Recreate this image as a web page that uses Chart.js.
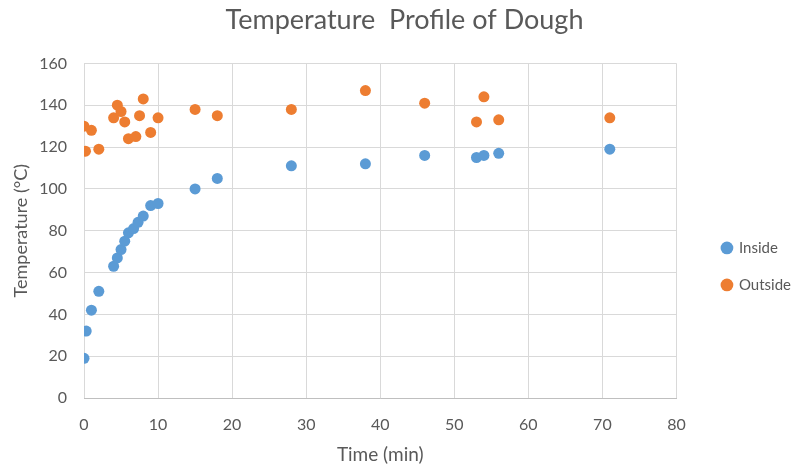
<!DOCTYPE html>
<html>
<head>
<meta charset="utf-8">
<script src="https://cdn.jsdelivr.net/npm/chart.js@4"></script>
<style>
  html, body { margin: 0; padding: 0; background: #fff; }
</style>
</head>
<body>
<canvas id="chart" width="796" height="470"></canvas>
<script>
const insideTime = [0, 0.3, 1, 2, 4, 4.5, 5, 5.5, 6, 6.7, 7.3, 8, 9, 10, 15, 18, 28, 38, 46, 53, 54, 56, 71];
const insideTemp = [19, 32, 42, 51, 63, 67, 71, 75, 79, 81, 84, 87, 92, 93, 100, 105, 111, 112, 116, 115, 116, 117, 119];
const outsideTime = [0, 0.2, 1, 2, 4, 4.5, 5, 5.5, 6, 7, 7.5, 8, 9, 10, 15, 18, 28, 38, 46, 53, 54, 56, 71];
const outsideTemp = [130, 118, 128, 119, 134, 140, 137, 132, 124, 125, 135, 143, 127, 134, 138, 135, 138, 147, 141, 132, 144, 133, 134];

const toPoints = (xs, ys) => xs.map((x, i) => ({ x: x, y: ys[i] }));

const textColor = '#595959';
const gridColor = '#d9d9d9';
const fontFamily = 'Lato, "Open Sans", sans-serif';

new Chart(document.getElementById('chart'), {
  type: 'scatter',
  data: {
    datasets: [
      {
        label: 'Inside',
        data: toPoints(insideTime, insideTemp),
        backgroundColor: '#5B9BD5',
        borderColor: '#5B9BD5',
        pointRadius: 5.5,
        pointBorderWidth: 0
      },
      {
        label: 'Outside',
        data: toPoints(outsideTime, outsideTemp),
        backgroundColor: '#ED7D31',
        borderColor: '#ED7D31',
        pointRadius: 5.5,
        pointBorderWidth: 0
      }
    ]
  },
  options: {
    responsive: false,
    animation: false,
    layout: { padding: { left: 8, right: -5, top: 0, bottom: 4 } },
    plugins: {
      title: {
        display: true,
        text: 'Temperature  Profile of Dough',
        color: textColor,
        font: { family: fontFamily, size: 27, weight: 'normal' },
        padding: { top: 4, bottom: 27 }
      },
      legend: {
        position: 'right',
        // blank title only pushes the legend items down a little
        title: { display: true, text: ' ', padding: 25, font: { size: 14 } },
        labels: {
          usePointStyle: true,
          pointStyle: 'circle',
          boxWidth: 9,
          boxHeight: 9,
          padding: 22,
          color: textColor,
          font: { family: fontFamily, size: 15 }
        }
      },
      tooltip: { enabled: false }
    },
    scales: {
      x: {
        type: 'linear',
        min: 0,
        max: 80,
        ticks: { stepSize: 10, color: textColor, padding: 17, font: { family: fontFamily, size: 16 } },
        grid: { color: gridColor, drawTicks: false },
        border: { color: '#bfbfbf' },
        title: {
          display: true,
          text: 'Time (min)',
          color: textColor,
          font: { family: fontFamily, size: 19 },
          padding: { top: 12, bottom: 0 }
        },
        afterFit: axis => { axis.height = 68; }
      },
      y: {
        min: 0,
        max: 160,
        ticks: { stepSize: 20, color: textColor, padding: 17, font: { family: fontFamily, size: 16 } },
        grid: { color: gridColor, drawTicks: false },
        border: { display: false },
        title: {
          display: true,
          text: 'Temperature (°C)',
          color: textColor,
          font: { family: fontFamily, size: 18 },
          padding: { top: 2, bottom: 8 }
        },
        afterFit: axis => { axis.width = 76; }
      },
      // empty right-hand axis, only keeps a gap between the plot and the legend
      gap: {
        type: 'linear',
        position: 'right',
        display: true,
        grid: { display: false },
        border: { display: false },
        ticks: { display: false },
        afterFit: axis => { axis.width = 24; }
      }
    }
  }
});
</script>
</body>
</html>
